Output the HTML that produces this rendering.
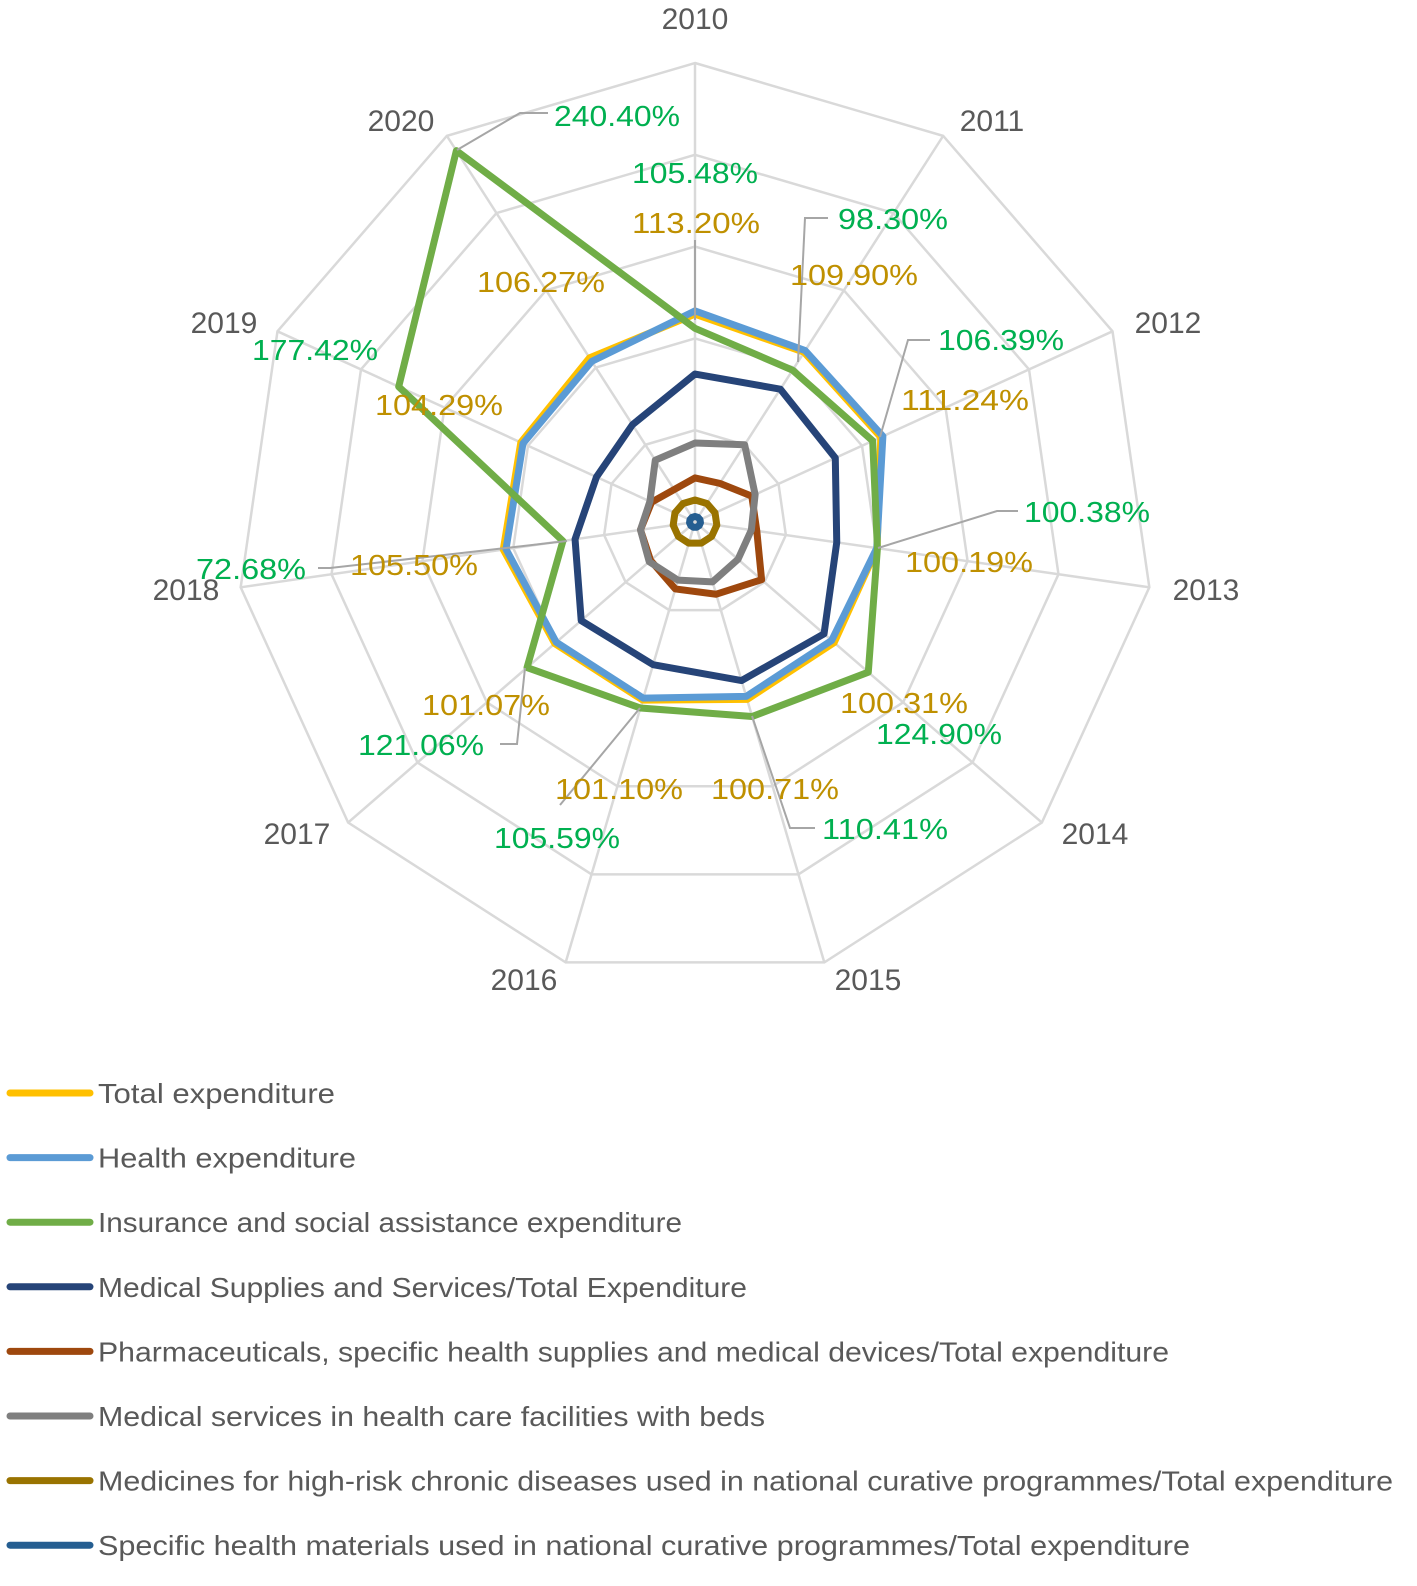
<!DOCTYPE html>
<html>
<head>
<meta charset="utf-8">
<style>
  html, body { margin: 0; padding: 0; background: #fff; }
  svg { display: block; font-family: "Liberation Sans", sans-serif; }
</style>
</head>
<body>
<svg id="chart" width="1417" height="1586" viewBox="0 0 1417 1586" xmlns="http://www.w3.org/2000/svg">
  <g id="grid"></g>
  <g id="axis-labels"></g>
  <g id="series"></g>
  <g id="leaders"></g>
  <g id="data-labels"></g>
  <g id="legend"></g>
</svg>
<script>
const categories = ["2010","2011","2012","2013","2014","2015","2016","2017","2018","2019","2020"];
const seriesNames = [
  "Total expenditure",
  "Health expenditure",
  "Insurance and social assistance expenditure",
  "Medical Supplies and Services/Total Expenditure",
  "Pharmaceuticals, specific health supplies and medical devices/Total expenditure",
  "Medical services in health care facilities with beds",
  "Medicines for high-risk chronic diseases used in national curative programmes/Total expenditure",
  "Specific health materials used in national curative programmes/Total expenditure"
];
const totalValues     = [113.20,109.90,111.24,100.19,100.31,100.71,101.10,101.07,105.50,104.29,106.27];
const healthValues    = [115.0,111.0,112.5,100.0,98.5,99.0,100.0,100.0,104.0,103.0,104.0];
const insuranceValues = [105.48,98.30,106.39,100.38,124.90,110.41,105.59,121.06,72.68,177.42,240.40];
const suppliesValues  = [80.6,86,84,78,93,90,81,82,66,59,63];
const pharmaValues    = [24,25,34,34,48,41,38,32,30,26,21];
const bedsValues      = [43,50,36,31,31,34,33,33,30,27,40];
const medicinesValues = [12,12,12,12,12,12,12,12,12,12,12];
const materialsValues = [3,3,3,3,3,3,3,3,3,3,3];
const gridTicks = [50,100,150,200,250];

const colors = ["#ffc000","#5b9bd5","#70ad47","#264478","#9e480e","#7f7f7f","#997300","#255e91"];
const allSeries = [totalValues,healthValues,insuranceValues,suppliesValues,pharmaValues,bedsValues,medicinesValues,materialsValues];
const seriesKeys = ["total","health","insurance","supplies","pharma","beds","medicines","materials"];

const NS = "http://www.w3.org/2000/svg";
const cx = 695, cy = 522, R = 459, maxV = 250;
const n = categories.length;
function ang(i){ return i * 2 * Math.PI / n; }
function pt(i, v){ const r = v / maxV * R; return [cx + r*Math.sin(ang(i)), cy - r*Math.cos(ang(i))]; }
function mk(tag, attrs, parent){ const e = document.createElementNS(NS, tag); for (const k in attrs) e.setAttribute(k, attrs[k]); parent.appendChild(e); return e; }

const grid = document.getElementById("grid");
gridTicks.forEach(t => {
  const pts = categories.map((c,i) => pt(i,t).join(",")).join(" ");
  const p = mk("polygon", {points: pts, fill: "none", stroke: "#d9d9d9", "stroke-width": 2.5}, grid);
  
  
});
categories.forEach((c,i) => {
  const [x,y] = pt(i, maxV);
  const l = mk("line", {x1: cx, y1: cy, x2: x, y2: y, stroke: "#d9d9d9", "stroke-width": 2.5}, grid);
  
  
});

const al = document.getElementById("axis-labels");
const yearLabelPos = [[695,18],[992,120],[1168,322],[1206,589],[1095,833],[868,979],[524,979],[297,833],[186,589],[224,322],[401,120]];
categories.forEach((c,i) => {
  const t = mk("text", {x: yearLabelPos[i][0], y: yearLabelPos[i][1] + 11, "text-anchor": "middle", "font-size": 30, fill: "#595959"}, al);
  t.textContent = c;
  
  
});

const sg = document.getElementById("series");
allSeries.forEach((vals, s) => {
  const pts = vals.map((v,i) => pt(i,v).join(",")).join(" ");
  const p = mk("polygon", {points: pts, fill: "none", stroke: colors[s], "stroke-width": 7, "stroke-linejoin": "round"}, sg);
  
  
});

const lg = document.getElementById("leaders");
const leaderPaths = [
  "M457,150 L520,113 L548,113",
  "M798,362 L805,218 L828,218",
  "M880,437 L908,340 L930,340",
  "M878,548 L997,511 L1018,511",
  "M752,716 L790,828 L815,828",
  "M640,708 L560,805",
  "M525,668 L517,744 L500,744",
  "M567,541 L330,568 L318,568",
  "M695,320 L695,240"
];
leaderPaths.forEach((d,k) => {
  const p = mk("path", {d: d, fill: "none", stroke: "#a6a6a6", "stroke-width": 2}, lg);
  
  
});

const dl = document.getElementById("data-labels");
const greenLabelPos = [[632,173],[838,219],[938,340],[1024,512],[876,734],[822,829],[494,838],[358,745],[196,569],[252,350],[554,116]];
const orangeLabelPos = [[632,223],[790,275],[901,400],[905,562],[840,703],[711,789],[555,789],[422,705],[350,565],[375,405],[477,282]];
insuranceValues.forEach((v,i) => {
  const t = mk("text", {x: greenLabelPos[i][0], y: greenLabelPos[i][1] + 10, "font-size": 29, fill: "#00b050", textLength: 126, lengthAdjust: "spacingAndGlyphs"}, dl);
  if (v < 100) t.setAttribute("textLength", 110);
  t.textContent = v.toFixed(2) + "%";
  
  
});
totalValues.forEach((v,i) => {
  const t = mk("text", {x: orangeLabelPos[i][0], y: orangeLabelPos[i][1] + 10, "font-size": 29, fill: "#bf9000", textLength: 128, lengthAdjust: "spacingAndGlyphs"}, dl);
  t.textContent = v.toFixed(2) + "%";
  
  
});

const lgd = document.getElementById("legend");
const legendWidths = [237,258,584,649,1071,667,1295,1092];
seriesNames.forEach((name, s) => {
  const y = 1093 + s * 64.6;
  const g = mk("g", {}, lgd);
  
  
  const l = mk("line", {x1: 10, y1: y, x2: 90, y2: y, stroke: colors[s], "stroke-width": 7, "stroke-linecap": "round"}, g);
  
  
  const t = mk("text", {x: 98, y: y + 10, "font-size": 28, fill: "#595959", textLength: legendWidths[s], lengthAdjust: "spacingAndGlyphs"}, g);
  t.textContent = name;
  
  
});
</script>
</body>
</html>
